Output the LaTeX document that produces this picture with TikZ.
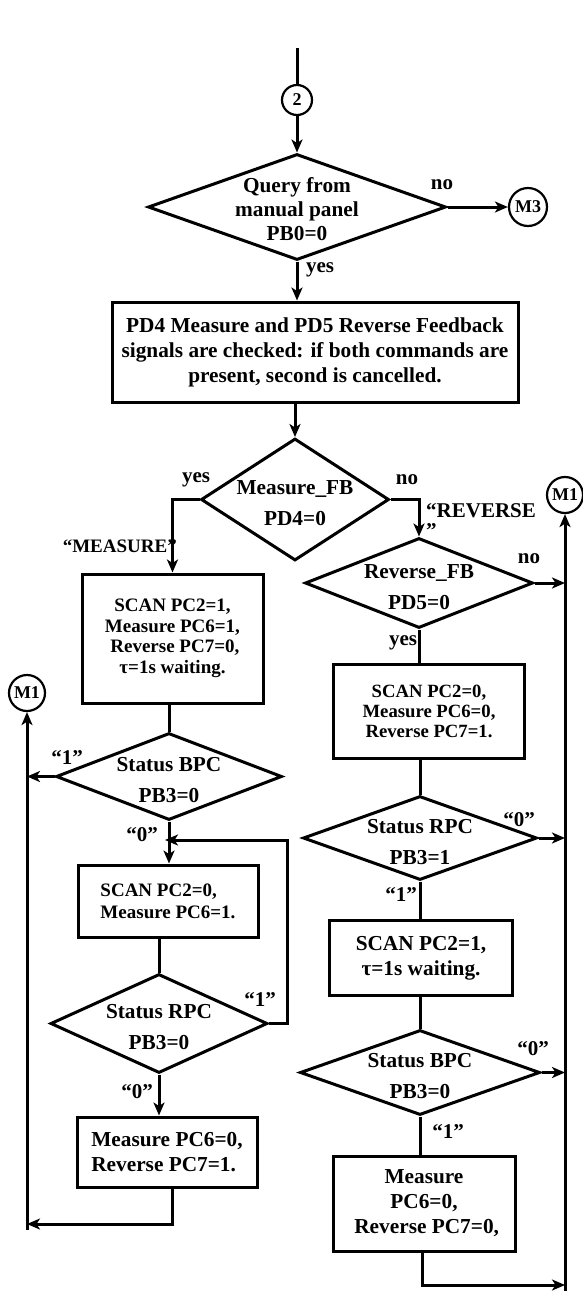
\documentclass[tikz,border=0pt]{standalone}
\usepackage{fontspec}
\setmainfont{Liberation Serif}
\usetikzlibrary{shapes.geometric,arrows.meta}

\tikzset{
  decision/.style={diamond, draw, line width=3pt, inner sep=0pt},
  process/.style={rectangle, draw, line width=3pt, inner sep=0pt, align=center,
    font=\bfseries\fontsize{21.3}{25}\selectfont},
  connector/.style={circle, draw, line width=2.2pt, inner sep=0pt, minimum size=#1,
    font=\bfseries\fontsize{18}{18}\selectfont},
  flow/.style={line width=3pt, -{Stealth[length=13pt,width=11pt,inset=3.5pt]}},
  link/.style={line width=3pt},
  answer/.style={font=\bfseries\fontsize{21}{18}\selectfont, inner sep=0pt},
  query/.style={align=center, inner sep=0pt, yshift=-4pt,
    font=\bfseries\fontsize{21.3}{31}\selectfont}
}

\begin{document}
\begin{tikzpicture}[x=1pt,y=-1pt]
  \useasboundingbox (0,0) rectangle (582,1291);

  % Entry and manual panel query
  \coordinate (entry) at (297,48);
  \node[connector=30pt] (c2) at (297,100) {2};
  \node[decision, minimum width=298pt, minimum height=106pt,
    label={[query, yshift=2pt, font=\bfseries\fontsize{21.3}{24}\selectfont]center:Query from\\manual panel\\PB0=0}]
    (query) at (297,207) {};
  \node[connector=38pt] (m3) at (528,207) {M3};
  \node[process, minimum width=406pt, minimum height=100pt] (check) at (315,352)
    {PD4 Measure and PD5 Reverse Feedback\\signals are checked: if both commands are\\present, second is cancelled.};

  % Feedback decisions
  \node[decision, minimum width=188pt, minimum height=122pt,
    label={[query]center:Measure\_FB\\PD4=0}] (measfb) at (295,499.5) {};
  \node[decision, minimum width=228pt, minimum height=90pt,
    label={[query]center:Reverse\_FB\\PD5=0}] (revfb) at (419,583) {};

  % Off-page connectors M1
  \node[connector=36pt] (m1r) at (565,495) {M1};
  \node[connector=36pt] (m1l) at (27,693) {M1};
  \coordinate (rbot) at (565,1291);
  \coordinate (lbot) at (27,1230);

  % Left branch ("MEASURE")
  \node[process, minimum width=181pt, minimum height=129pt,
    font=\bfseries\fontsize{19}{20.5}\selectfont] (scanL) at (172.5,638.5)
    {SCAN PC2=1,\\Measure PC6=1,\\ \ Reverse PC7=0,\\τ=1s waiting.};
  \node[decision, minimum width=226pt, minimum height=87pt,
    label={[query]center:Status BPC\\PB3=0}] (bpcL) at (169,776.5) {};
  \node[process, minimum width=180pt, minimum height=72pt, align=left,
    font=\bfseries\fontsize{19}{22}\selectfont] (measL) at (168,901)
    {SCAN PC2=0,\\Measure PC6=1.};
  \node[decision, minimum width=217pt, minimum height=99pt,
    label={[query]center:Status RPC\\PB3=0}] (rpcL) at (159,1023.5) {};
  \node[process, minimum width=180pt, minimum height=70pt, align=left] (revL) at (167,1152)
    {Measure PC6=0,\\Reverse PC7=1.};

  % Right branch ("REVERSE")
  \node[process, minimum width=191pt, minimum height=94pt,
    font=\bfseries\fontsize{18.7}{20}\selectfont] (scanR) at (429,711)
    {SCAN PC2=0,\\Measure PC6=0,\\Reverse PC7=1.};
  \node[decision, minimum width=234pt, minimum height=84pt,
    label={[query]center:Status RPC\\PB3=1}] (rpcR) at (420,838) {};
  \node[process, minimum width=183pt, minimum height=75pt] (waitR) at (421,958)
    {SCAN PC2=1,\\ τ=1s waiting.};
  \node[decision, minimum width=240pt, minimum height=85pt,
    label={[query]center:Status BPC\\PB3=0}] (bpcR) at (420,1072.5) {};
  \node[process, minimum width=182pt, minimum height=95pt] (stopR) at (424,1203.5)
    {Measure\\PC6=0,\\ \ Reverse PC7=0,};

  % Connectors, top part
  \draw[link] (entry) -- (c2.north);
  \draw[flow] (c2.south) -- (query.north);
  \draw[flow] (query.east) -- (m3.west);
  \draw[flow] (query.south) -- (query.south |- check.north);
  \draw[flow] (check.south -| measfb.north) -- (measfb.north);
  \draw[flow] (measfb.west) -| (scanL.north);
  \draw[flow] (measfb.east) -| (revfb.north);
  \draw[flow] (revfb.east) -- (revfb.east -| rbot);
  \draw[flow] (rbot) -- (m1r.south);
  \draw[flow] (lbot) -- (m1l.south);

  % Connectors, left branch
  \draw[link] (scanL.south -| bpcL.north) -- (bpcL.north);
  \draw[flow] (bpcL.west) -- (bpcL.west -| lbot);
  \draw[flow] (bpcL.south) -- (bpcL.south |- measL.north);
  \coordinate (loop) at (287,840);
  \draw[flow] (rpcL.east) -| (loop) -- ([xshift=-4pt]loop -| bpcL.south);
  \draw[link] (measL.south -| rpcL.north) -- (rpcL.north);
  \draw[flow] (rpcL.south) -- (rpcL.south |- revL.north);
  \coordinate (lturn) at (172,1224);
  \draw[flow] (revL.south -| lturn) -- (lturn) -- (lturn -| lbot);

  % Connectors, right branch
  \draw[link] (revfb.south) -- (revfb.south |- scanR.north);
  \draw[link] (scanR.south -| rpcR.north) -- (rpcR.north);
  \draw[flow] (rpcR.east) -- (rpcR.east -| rbot);
  \draw[link] (rpcR.south) -- (rpcR.south |- waitR.north);
  \draw[link] (waitR.south -| bpcR.north) -- (bpcR.north);
  \draw[flow] (bpcR.east) -- (bpcR.east -| rbot);
  \draw[link] (bpcR.south) -- (bpcR.south |- stopR.north);
  \coordinate (rturn) at (422,1285);
  \draw[flow] (stopR.south -| rturn) -- (rturn) -- (rturn -| rbot);

  % Branch labels
  \node[answer] (lnoQ) at (442,185) {no};
  \node[answer] (lyesQ) at (320,270) {yes};
  \node[answer] (lyesM) at (196,480) {yes};
  \node[answer] (lnoM) at (407,480) {no};
  \node[answer, anchor=east, font=\bfseries\fontsize{19}{18}\selectfont] (lmeas) at (177,546) {“MEASURE”};
  \node[answer, align=left, anchor=north west, font=\bfseries\fontsize{21}{20}\selectfont] (lrev) at (426,503) {“REVERSE\\”};
  \node[answer] (lnoR) at (529,559) {no};
  \node[answer] (lyesR) at (403,643) {yes};
  \node[answer] (l1a) at (67,758) {“1”};
  \node[answer] (l0a) at (142,835) {“0”};
  \node[answer] (l1b) at (260,1000) {“1”};
  \node[answer] (l0b) at (137,1092) {“0”};
  \node[answer] (l0c) at (519,820) {“0”};
  \node[answer] (l1c) at (401,895) {“1”};
  \node[answer] (l0d) at (533,1049) {“0”};
  \node[answer] (l1d) at (448,1132) {“1”};
\end{tikzpicture}
\end{document}
